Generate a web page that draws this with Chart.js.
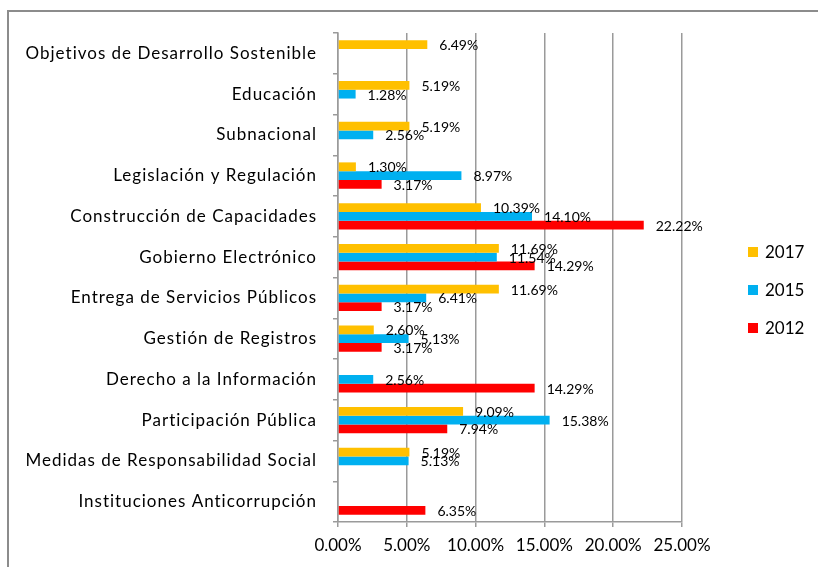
<!DOCTYPE html>
<html>
<head>
<meta charset="utf-8">
<script src="https://cdn.jsdelivr.net/npm/chart.js@4/dist/chart.umd.min.js"></script>
<style>
    html, body { margin: 0; padding: 0; background: #fff; overflow: hidden; }
    #wrap { position: relative; width: 818px; height: 567px; }
    #frame {
        position: absolute; left: 7px; top: 10px; width: 900px; height: 700px;
        border-left: 2px solid #8c8c8c; border-top: 2px solid #8c8c8c;
    }
    canvas { position: absolute; left: 0; top: 0; }
</style>
</head>
<body>
<div id="wrap">
    <div id="frame"></div>
    <canvas id="chart" width="818" height="567"></canvas>
</div>
<script>
const categories = [
    'Objetivos de Desarrollo Sostenible',
    'Educación',
    'Subnacional',
    'Legislación y Regulación',
    'Construcción de Capacidades',
    'Gobierno Electrónico',
    'Entrega de Servicios Públicos',
    'Gestión de Registros',
    'Derecho a la Información',
    'Participación Pública',
    'Medidas de Responsabilidad Social',
    'Instituciones Anticorrupción'
]
const seriesNames = ['2017', '2015', '2012']
const values2017 = [6.49, 5.19, 5.19, 1.30, 10.39, 11.69, 11.69, 2.60, null, 9.09, 5.19, null]
const values2015 = [null, 1.28, 2.56, 8.97, 14.10, 11.54, 6.41, 5.13, 2.56, 15.38, 5.13, null]
const values2012 = [null, null, null, 3.17, 22.22, 14.29, 3.17, 3.17, 14.29, 7.94, null, 6.35]
const xTickLabels = ['0.00%', '5.00%', '10.00%', '15.00%', '20.00%', '25.00%']

const colors = ['#FFC000', '#00B0F0', '#FF0000']
const FONT = 'Lato'

// подписи значений справа от столбцов
const barLabels = {
    id: 'barLabels',
    afterDatasetsDraw(chart) {
        const ctx = chart.ctx
        ctx.save()
        ctx.font = '14px ' + FONT
        ctx.fillStyle = '#000'
        ctx.textBaseline = 'middle'
        ctx.textAlign = 'left'
        chart.data.datasets.forEach((ds, i) => {
            chart.getDatasetMeta(i).data.forEach((bar, j) => {
                const v = ds.data[j]
                if (v == null) return
                ctx.fillText(v.toFixed(2) + '%', bar.x + 12, bar.y + 1)
            })
        })
        ctx.restore()
    }
}

// у Excel подписи категорий разрежены — добавляем межбуквенный интервал
const spacedYLabels = {
    id: 'spacedYLabels',
    beforeDraw(chart) {
        const y = chart.scales.y
        if (y._spaced) return
        const orig = y.drawLabels
        y.drawLabels = function (area) {
            const ctx = this.ctx
            ctx.save()
            ctx.letterSpacing = '1px'
            orig.call(this, area)
            ctx.restore()
        }
        y._spaced = true
    }
}

// легенда справа, как в Excel
const sideLegend = {
    id: 'sideLegend',
    afterDraw(chart) {
        const ctx = chart.ctx
        const x = chart.chartArea.right + 66
        ctx.save()
        ctx.font = '17px ' + FONT
        ctx.textBaseline = 'middle'
        chart.data.datasets.forEach((ds, i) => {
            const y = 252 + i * 38
            ctx.fillStyle = ds.backgroundColor
            ctx.fillRect(x, y - 5, 10, 10)
            ctx.fillStyle = '#000'
            ctx.fillText(ds.label, x + 17, y + 1)
        })
        ctx.restore()
    }
}

function drawChart() {
    new Chart(document.querySelector('#chart'), {
        type: 'bar',
        data: {
            labels: categories,
            datasets: [values2017, values2015, values2012].map((d, i) => ({
                label: seriesNames[i],
                data: d,
                backgroundColor: colors[i],
                categoryPercentage: 0.65,
                barPercentage: 1.0
            }))
        },
        options: {
            indexAxis: 'y',
            responsive: false,
            animation: false,
            layout: { padding: { left: 0, top: 33, right: 136, bottom: 0 } },
            plugins: {
                legend: { display: false },
                tooltip: { enabled: false }
            },
            scales: {
                x: {
                    min: 0,
                    max: 25,
                    ticks: {
                        stepSize: 5,
                        color: '#000',
                        padding: 8,
                        font: { family: FONT, size: 17 },
                        callback: (v, i) => xTickLabels[i]
                    },
                    grid: { color: '#9a9a9a', lineWidth: 1.5, tickLength: 5 },
                    border: { color: '#9a9a9a', width: 1.5 },
                    afterFit: s => { s.height = 45 }
                },
                y: {
                    ticks: {
                        color: '#000',
                        padding: 16,
                        autoSkip: false,
                        font: { family: FONT, size: 17 }
                    },
                    grid: { drawOnChartArea: false, color: '#9a9a9a', lineWidth: 1.5, tickLength: 5, offset: true },
                    border: { color: '#9a9a9a', width: 1.5 },
                    afterFit: s => { s.width = 338 }
                }
            }
        },
        plugins: [barLabels, spacedYLabels, sideLegend]
    })
}

document.fonts.load('17px ' + FONT).then(drawChart, drawChart)
</script>
</body>
</html>
